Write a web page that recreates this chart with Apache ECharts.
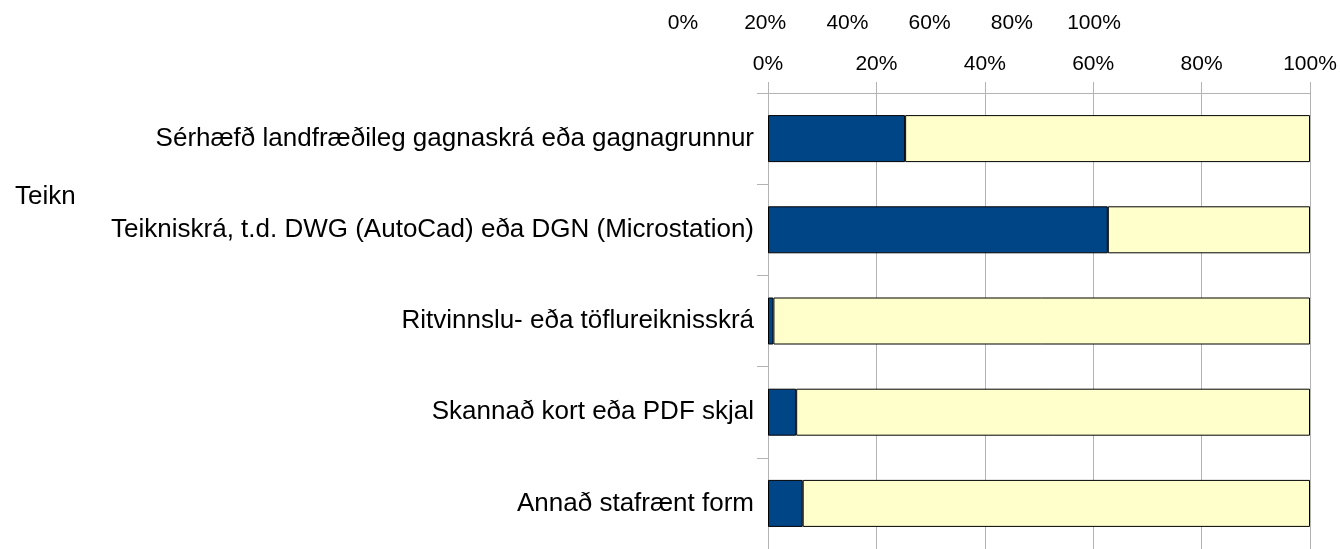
<!DOCTYPE html>
<html>
<head>
<meta charset="utf-8">
<script src="https://cdn.jsdelivr.net/npm/echarts@6/dist/echarts.min.js"></script>
<style>
  html, body { margin: 0; padding: 0; background: #fff; }
  #chart { width: 1340px; height: 549px; }
</style>
</head>
<body>
<div id="chart"></div>
<script>
// flokkar (efst til neðst)
const categories = [
    'Sérhæfð landfræðileg gagnaskrá eða gagnagrunnur',
    'Teikniskrá, t.d. DWG (AutoCad) eða DGN (Microstation)',
    'Ritvinnslu- eða töflureiknisskrá',
    'Skannað kort eða PDF skjal',
    'Annað stafrænt form'
];
// hlutfall, %
const yesValues = [25.3, 62.7, 1.0, 5.2, 6.4];
const noValues = [74.7, 37.3, 99.0, 94.8, 93.6];
const axisTicks = [0, 20, 40, 60, 80, 100];
const strayLabel = 'Teikn';

const FONT = 'Liberation Sans, Arial, sans-serif';
const GRID_GRAY = '#b3b3b3';

const chart = echarts.init(document.getElementById('chart'), null, { renderer: 'canvas' });

chart.setOption({
    animation: false,
    backgroundColor: '#fff',
    textStyle: { fontFamily: FONT },
    grid: [
        { left: 768, right: 30, top: 93, height: 462 },
        { left: 683, width: 411, top: 93, height: 462 }
    ],
    xAxis: [{
        gridIndex: 0,
        type: 'value',
        position: 'top',
        min: axisTicks[0],
        max: axisTicks[axisTicks.length - 1],
        interval: 20,
        axisLine: { show: true, lineStyle: { color: GRID_GRAY } },
        axisTick: { show: true, length: 11, lineStyle: { color: GRID_GRAY } },
        splitLine: { show: true, lineStyle: { color: GRID_GRAY } },
        axisLabel: { formatter: '{value}%', color: '#000', fontSize: 21, margin: 18, fontFamily: FONT }
    }, {
        gridIndex: 1,
        type: 'value',
        position: 'top',
        min: axisTicks[0],
        max: axisTicks[axisTicks.length - 1],
        interval: 20,
        axisLine: { show: false },
        axisTick: { show: false },
        splitLine: { show: false },
        axisLabel: { formatter: '{value}%', color: '#000', fontSize: 21, margin: 59, fontFamily: FONT }
    }],
    yAxis: [{
        gridIndex: 0,
        type: 'category',
        inverse: true,
        data: categories,
        axisLine: { show: true, lineStyle: { color: GRID_GRAY } },
        axisTick: { show: true, length: 11, lineStyle: { color: GRID_GRAY } },
        axisLabel: { color: '#000', fontSize: 26, margin: 14, fontFamily: FONT }
    }, {
        gridIndex: 1,
        type: 'category',
        inverse: true,
        data: categories,
        show: false
    }],
    graphic: [{
        type: 'text',
        left: 15,
        top: 184,
        style: { text: strayLabel, fill: '#000', font: '26px ' + FONT }
    }],
    series: [{
        name: 'Já',
        type: 'bar',
        stack: 'total',
        xAxisIndex: 0,
        yAxisIndex: 0,
        barWidth: 47,
        data: yesValues,
        itemStyle: { color: '#004586', borderColor: '#000', borderWidth: 1 }
    }, {
        name: 'Nei',
        type: 'bar',
        stack: 'total',
        xAxisIndex: 0,
        yAxisIndex: 0,
        barWidth: 47,
        data: noValues,
        itemStyle: { color: '#ffffcc', borderColor: '#000', borderWidth: 1 }
    }]
});
</script>
</body>
</html>
